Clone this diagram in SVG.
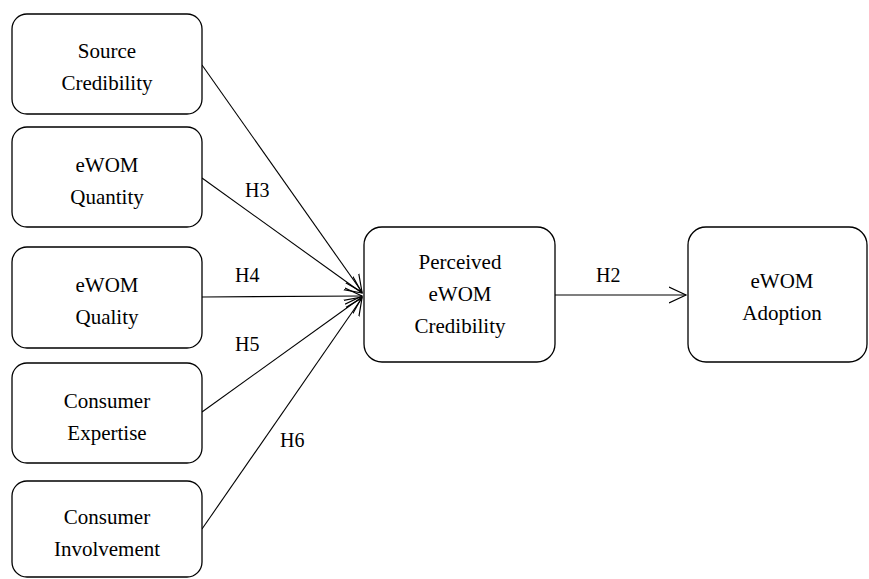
<svg xmlns="http://www.w3.org/2000/svg" width="869" height="579" viewBox="0 0 869 579" font-family="Liberation Serif">
<style>
.box{fill:#fff;stroke:#000;stroke-width:1.3}
.c{stroke:#000;stroke-width:1.1;fill:none;marker-end:url(#ah)}
</style>
<defs>
<marker id="ah" markerUnits="userSpaceOnUse" markerWidth="20" markerHeight="20" refX="17" refY="8" orient="auto" viewBox="0 0 20 16">
<path d="M0,0 L17,8 L0,16" fill="none" stroke="#000" stroke-width="1.2"/>
</marker>
</defs>
<rect width="869" height="579" fill="#fff"/>
<g id="connectors">
<line class="c" x1="202" y1="65" x2="362" y2="292"/>
<line class="c" x1="202" y1="178" x2="362" y2="293"/>
<line class="c" x1="202" y1="297" x2="362" y2="296"/>
<line class="c" x1="202" y1="412" x2="362" y2="297"/>
<line class="c" x1="202" y1="529" x2="362" y2="298"/>
<line class="c" x1="555" y1="295" x2="686" y2="295"/>
<g font-family="Liberation Serif" font-size="20">
<text x="245" y="197">H3</text>
<text x="235" y="282">H4</text>
<text x="235" y="351">H5</text>
<text x="280" y="447">H6</text>
<text x="596" y="282">H2</text>
</g>
</g>
<g font-family="Liberation Serif" font-size="21" text-anchor="middle">
<g id="source">
<rect class="box" x="12" y="14" width="190" height="100" rx="15"/>
<text x="107" y="58">Source</text>
<text x="107" y="90">Credibility</text>
</g>
<g id="quantity">
<rect class="box" x="12" y="127" width="190" height="100" rx="15"/>
<text x="107" y="172">eWOM</text>
<text x="107" y="204">Quantity</text>
</g>
<g id="quality">
<rect class="box" x="12" y="247" width="190" height="101" rx="15"/>
<text x="107" y="292">eWOM</text>
<text x="107" y="324">Quality</text>
</g>
<g id="expertise">
<rect class="box" x="12" y="363" width="190" height="100" rx="15"/>
<text x="107" y="408">Consumer</text>
<text x="107" y="440">Expertise</text>
</g>
<g id="involvement">
<rect class="box" x="12" y="481" width="190" height="96" rx="15"/>
<text x="107" y="524">Consumer</text>
<text x="107" y="556">Involvement</text>
</g>
<g id="perceived">
<rect class="box" x="364" y="227" width="191" height="135" rx="18"/>
<text x="460" y="269">Perceived</text>
<text x="460" y="301">eWOM</text>
<text x="460" y="333">Credibility</text>
</g>
<g id="adoption">
<rect class="box" x="688" y="227" width="179" height="135" rx="18"/>
<text x="782" y="288">eWOM</text>
<text x="782" y="320">Adoption</text>
</g>
</g>
</svg>
